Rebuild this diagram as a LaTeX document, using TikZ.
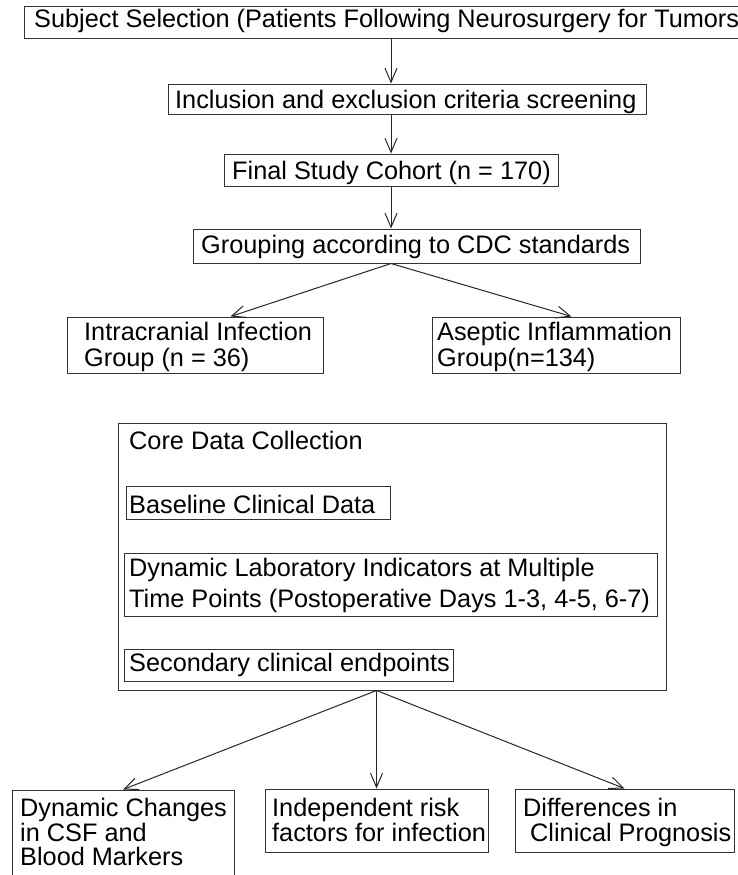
\documentclass[tikz,border=0pt]{standalone}
\usepackage{fontspec}
\setmainfont{Liberation Sans}
\usetikzlibrary{arrows.meta,fit}
\begin{document}
\begin{tikzpicture}[x=1pt,y=-1pt,
  boxst/.style={draw=black!80, line width=1pt, inner sep=0pt, rectangle},
  txt/.style={inner sep=0pt, anchor=base west, font=\fontsize{25.3pt}{30pt}\selectfont},
  arr/.style={draw=black!85, line width=1pt, -{Straight Barb[length=14pt,width=12pt,line width=1pt]}}]
\useasboundingbox (0,0) rectangle (738,875);
% boxes
\node[boxst, fit={(24,7) (745,39)}] (b1) {};
\node[boxst, fit={(168,84) (646,114)}] (b2) {};
\node[boxst, fit={(224,154) (558,186)}] (b3) {};
\node[boxst, fit={(193,229) (640,263)}] (b4) {};
\node[boxst, fit={(67,317) (323,373)}] (b5) {};
\node[boxst, fit={(432,317) (680,373)}] (b6) {};
\node[boxst, fit={(118,423) (666,690)}] (core) {};
\node[boxst, fit={(126,486) (390,519)}] (base) {};
\node[boxst, fit={(124,553) (657,616)}] (dyn) {};
\node[boxst, fit={(124,649) (453,681)}] (sec) {};
\node[boxst, fit={(12,790) (234,900)}] (bA) {};
\node[boxst, fit={(265,789) (488,852)}] (bB) {};
\node[boxst, fit={(515,789) (734,852)}] (bC) {};
% texts
\node[txt] (t1) at (34,28) {Subject Selection (Patients Following Neurosurgery for Tumors)};
\node[txt] (t2) at (175,108) {Inclusion and exclusion criteria screening};
\node[txt] (t3) at (232,179) {Final Study Cohort (n = 170)};
\node[txt] (t4) at (201,253) {Grouping according to CDC standards};
\node[txt] (t5a) at (84,340) {Intracranial Infection};
\node[txt] (t5b) at (84,366) {Group (n = 36)};
\node[txt] (t6a) at (437,340) {Aseptic Inflammation};
\node[txt] (t6b) at (437,366) {Group(n=134)};
\node[txt] (tc) at (129,449) {Core Data Collection};
\node[txt] (tbase) at (129,513) {Baseline Clinical Data};
\node[txt] (tdyna) at (129,576) {Dynamic Laboratory Indicators at Multiple};
\node[txt] (tdynb) at (129,607) {Time Points (Postoperative Days 1-3, 4-5, 6-7)};
\node[txt] (tsec) at (129,671) {Secondary clinical endpoints};
\node[txt] (tAa) at (20,816) {Dynamic Changes};
\node[txt] (tAb) at (20,841) {in CSF and};
\node[txt] (tAc) at (20,865) {Blood Markers};
\node[txt] (tBa) at (272,816) {Independent risk};
\node[txt] (tBb) at (272,841) {factors for infection};
\node[txt] (tCa) at (523,816) {Differences in};
\node[txt] (tCb) at (530,841) {Clinical Prognosis};
% connectors
\draw[arr] (b3.north |- b1.south) -- (b3.north |- b2.north);
\draw[arr] (b3.north |- b2.south) -- (b3.north);
\draw[arr] (b3.south) -- (b3.south |- b4.north);
\draw[arr] (b3.south |- b4.south) -- ([xshift=164pt]b5.north west);
\draw[arr] (b3.south |- b4.south) -- ([xshift=140pt]b6.north west);
\draw[arr] (bB.north |- core.south) -- (bA.north);
\draw[arr] (bB.north |- core.south) -- (bB.north);
\draw[arr] (bB.north |- core.south) -- (bC.north);
\end{tikzpicture}
\end{document}
